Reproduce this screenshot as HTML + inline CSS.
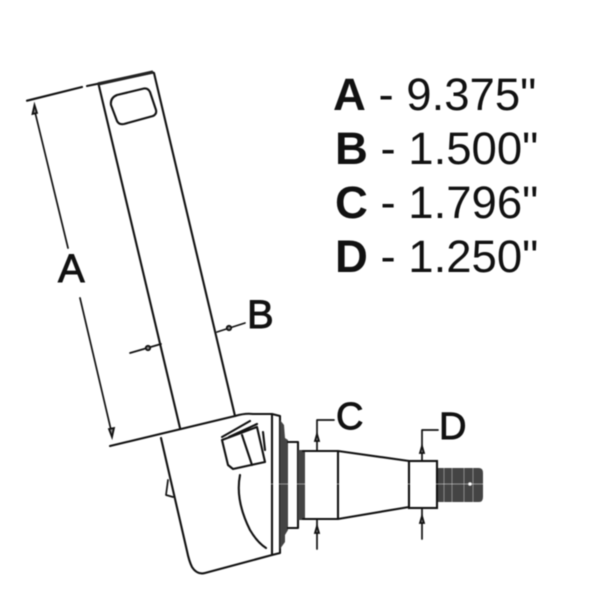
<!DOCTYPE html>
<html><head><meta charset="utf-8"><style>
html,body{margin:0;padding:0;background:#fff}
svg{display:block;filter:blur(.4px)}
text{font-family:"Liberation Sans",sans-serif;fill:#111}
.lb{stroke:#111;stroke-width:.9}
.l{fill:none;stroke:#111;stroke-width:2.1;stroke-linecap:round;stroke-linejoin:round}
.t{stroke-width:1.7}
.h{fill:#888;stroke:#111;stroke-width:1.8}
</style></head><body>
<svg width="600" height="600" viewBox="0 0 600 600" xmlns="http://www.w3.org/2000/svg">
<!-- arm -->
<path class="l" d="M27 100.700L82 87M87 86L153 72.500M98.500 84L180 428M154 73L235 416"/>
<path d="M98 84L153 72" stroke="#222" stroke-width="3.2" fill="none"/>
<path class="l" d="M117 95L144 88.500Q148 88 150 92L156 110Q157 114 153 116L124 124Q119 125 117 121L111 105Q110 98 117 95Z"/>
<!-- dimension A -->
<path class="l t" d="M35 112L68 248M80 298L111 430"/>
<path class="h" d="M34.500 105L37 113L32.500 114Z"/>
<path class="h" d="M112 437L114 428L109 429Z"/>
<path class="l" d="M110 446L235 416Q245 413 253 414L272 414L280 416L280 553L272 555L205 573Q197 575 192 567Q189 561 187 551L161 438"/>
<!-- flange -->
<path class="l" d="M272 414V555"/>
<path d="M280 420L284 425L285 438L288 440V530L285 535L285 542L280 549Z" fill="#444"/>
<path class="l" d="M288 442H298V528H288"/>
<path d="M298 450h7v70h-7z" fill="#444"/>
<!-- knuckle window -->
<path class="l" d="M222 437L250 421M229 437L257 424M222 440L228 465L233 469L265 462L257 427L222 440M242 435L252 465M263 432L265 450"/>
<path class="l" d="M240 475Q235 500 250 530Q257 542 266 548"/>
<path class="l t" d="M168 480L166 495L173 497"/>
<!-- spindle -->
<path class="l" d="M303 451H338L409 461V507L338 519H303M338 451V519"/>
<rect x="409" y="461" width="28" height="47" fill="#fff" stroke="#111" stroke-width="2.1"/>
<path d="M438 468H479Q483 468 483 473V497Q483 502 479 502H438Z" fill="#444"/>
<path d="M444 468v34M452 468v34M464 468v34M473 468v34" stroke="#888" stroke-width="1" fill="none"/>
<circle cx="470" cy="484" r="1.800" fill="#fff"/>
<path d="M250 484H500" stroke="#fff" stroke-width="1" opacity=".45"/>
<!-- dimension C/D -->
<path class="l t" d="M334 420H317V450M317 520V549M438 430H422V461M422 509V539"/>
<path class="h" d="M317 434L319 441L315 441Z"/>
<path class="h" d="M317 526L319 533L315 533Z"/>
<path class="h" d="M422 446L424 453L420 453Z"/>
<path class="h" d="M422 516L424 523L420 523Z"/>
<!-- dimension B -->
<path class="l t" d="M245 323L217 332M130 353L161 344"/>
<circle cx="229" cy="328" r="2.200" class="h"/>
<circle cx="148" cy="348" r="2.200" class="h"/>
<!-- labels -->
<text class="lb" x="58" y="282" font-size="40">A</text>
<text class="lb" x="247" y="328" font-size="40">B</text>
<text class="lb" x="336" y="429" font-size="38">C</text>
<text class="lb" x="439" y="439" font-size="38">D</text>
<text x="333" y="110" font-size="45.500"><tspan font-weight="bold">A</tspan> - 9.375"</text>
<text x="335" y="164" font-size="45.500"><tspan font-weight="bold">B</tspan> - 1.500"</text>
<text x="335" y="218" font-size="45.500"><tspan font-weight="bold">C</tspan> - 1.796"</text>
<text x="335" y="272" font-size="45.500"><tspan font-weight="bold">D</tspan> - 1.250"</text>
</svg>
</body></html>
